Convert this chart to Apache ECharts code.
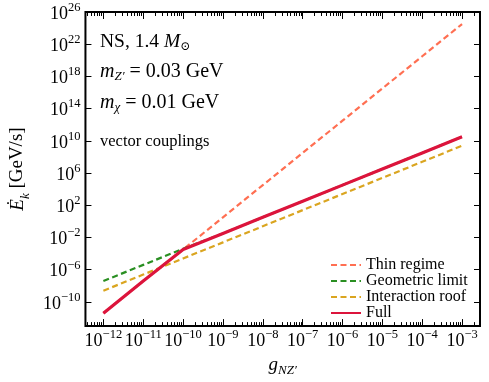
<!DOCTYPE html>
<html>
<head>
<meta charset="utf-8">
<script src="https://cdn.jsdelivr.net/npm/echarts@6/dist/echarts.min.js"></script>
<style>html,body{margin:0;padding:0;background:#fff;}#c{width:489px;height:382px;}</style>
</head>
<body>
<div id="c"></div>
<script>
// coupling g_{NZ'} (x) values
var gValues = [1e-12, 1e-11, 1e-10, 1e-9, 1e-8, 1e-7, 1e-6, 1e-5, 1e-4, 1e-3];
// Edot_k [GeV/s]
var thinRegime     = [4e-12, 4e-8, 3.2e-4, 3.2, 3.2e4, 3.2e8, 3.2e12, 3.2e16, 3.2e20, 3.2e24];
var geometricLimit = [4e-8, 4e-6, 4e-4, 3.2e-2, 3.2, 3.2e2, 3.2e4, 3.2e6, 3.2e8, 3.2e10];
var interactionRoof= [2.5e-9, 2.5e-7, 2.5e-5, 2.5e-3, 0.25, 25, 2.5e3, 2.5e5, 2.5e7, 2.5e9];
var full           = [4e-12, 4e-8, 3.2e-4, 3.2e-2, 3.2, 3.2e2, 3.2e4, 3.2e6, 3.2e8, 3.2e10];
// tick exponents
var xTickExps = [-12, -11, -10, -9, -8, -7, -6, -5, -4, -3];
var yTickExps = [-10, -6, -2, 2, 6, 10, 14, 18, 22, 26];
var seriesNames = ['Thin regime', 'Geometric limit', 'Interaction roof', 'Full'];

var FONT = "'Liberation Serif', 'DejaVu Serif', serif";
var X_MIN = -12.45, X_MAX = -2.55, Y_MIN = -13, Y_MAX = 26;

function pairs(xs, ys) {
  return xs.map(function (x, i) { return [Math.log10(x), Math.log10(ys[i])]; });
}
var xMinor = [];
for (var n = -13; n <= -3; n++) {
  for (var k = 2; k <= 9; k++) {
    var v = Math.log10(k) + n;
    if (v > X_MIN && v < X_MAX) xMinor.push(v);
  }
}
function powLabel(v) {
  var e = Math.round(v);
  return '{b|10}{s|' + (e < 0 ? '\u2212' : '') + Math.abs(e) + '}';
}
var labelRich = {
  b: { fontFamily: FONT, fontSize: 18, color: '#000', lineHeight: 22, verticalAlign: 'bottom' },
  s: { fontFamily: FONT, fontSize: 12.5, color: '#000', lineHeight: 22, verticalAlign: 'top' }
};
function xAxisDef(pos, minor, withLabel) {
  var ticks = minor ? xMinor : xTickExps;
  return {
    type: 'value', position: pos, min: X_MIN, max: X_MAX,
    axisLine: { show: false, onZero: false },
    splitLine: { show: false },
    axisTick: { show: true, inside: true, length: minor ? 4 : 7, customValues: ticks,
                lineStyle: { color: '#000', width: 1 } },
    axisLabel: withLabel ? { show: true, customValues: xTickExps, formatter: powLabel, margin: 2, rich: labelRich }
                         : { show: false },
    name: withLabel ? '{i|g}{s|NZ\u2032}' : '',
    nameLocation: 'middle', nameGap: 20,
    nameTextStyle: { rich: {
      i: { fontFamily: FONT, fontStyle: 'italic', fontSize: 19, color: '#000', lineHeight: 22, verticalAlign: 'top' },
      s: { fontFamily: FONT, fontStyle: 'italic', fontSize: 13, color: '#000', lineHeight: 22, verticalAlign: 'bottom' }
    } }
  };
}
function yAxisDef(pos, withLabel) {
  return {
    type: 'value', position: pos, min: Y_MIN, max: Y_MAX,
    axisLine: { show: false, onZero: false },
    splitLine: { show: false },
    axisTick: { show: true, inside: true, length: 6, customValues: yTickExps,
                lineStyle: { color: '#000', width: 1 } },
    axisLabel: withLabel ? { show: true, customValues: yTickExps, formatter: powLabel, margin: 5, rich: labelRich }
                         : { show: false },
    name: withLabel ? '{i|\u0116}{s|k}{r| [GeV/s]}' : '',
    nameLocation: 'middle', nameGap: 50, nameRotate: 90,
    nameTextStyle: { rich: {
      i: { fontFamily: FONT, fontStyle: 'italic', fontSize: 19, color: '#000', lineHeight: 24, verticalAlign: 'top' },
      s: { fontFamily: FONT, fontStyle: 'italic', fontSize: 13, color: '#000', lineHeight: 24, verticalAlign: 'bottom' },
      r: { fontFamily: FONT, fontSize: 19, color: '#000', lineHeight: 24, verticalAlign: 'top' }
    } }
  };
}
function lineSeries(name, ys, color, width, dashed) {
  return {
    name: name, type: 'line', xAxisIndex: 0, yAxisIndex: 0,
    data: pairs(gValues, ys), symbol: 'none', showSymbol: false,
    lineStyle: { color: color, width: width, type: dashed ? [6, 3.5] : 'solid' },
    itemStyle: { color: color },
    animation: false
  };
}

var chart = echarts.init(document.getElementById('c'), null, { renderer: 'canvas' });
chart.setOption({
  animation: false,
  backgroundColor: '#fff',
  grid: { left: 82, right: 9, top: 12, bottom: 50, show: true, borderColor: '#000', borderWidth: 2, containLabel: false },
  xAxis: [xAxisDef('bottom', false, true), xAxisDef('bottom', true, false), xAxisDef('top', false, false), xAxisDef('top', true, false)],
  yAxis: [yAxisDef('left', true), yAxisDef('right', false)],
  legend: {
    show: true,
    orient: 'vertical', left: 330, top: 257, itemWidth: 30, itemHeight: 10, itemGap: 0,
    padding: 0,
    itemStyle: { opacity: 0 },
    textStyle: { fontFamily: FONT, fontSize: 16, color: '#000', lineHeight: 15.6 },
    data: seriesNames
  },
  series: [
    lineSeries(seriesNames[0], thinRegime, '#FF6F52', 2.2, true),
    lineSeries(seriesNames[1], geometricLimit, '#2A8F22', 2.2, true),
    lineSeries(seriesNames[2], interactionRoof, '#DAA520', 2.2, true),
    lineSeries(seriesNames[3], full, '#DC143C', 3.2, false)
  ],
  graphic: [
    { type: 'text', left: 100, top: 32, style: { text: '{r|NS, 1.4 }{i|M}{s|\u2299}',
      rich: { r: { fontFamily: FONT, fontSize: 19.5, fill: '#000', lineHeight: 22 },
              i: { fontFamily: FONT, fontStyle: 'italic', fontSize: 19.5, fill: '#000', lineHeight: 22 },
              s: { fontFamily: FONT, fontSize: 12, fill: '#000', lineHeight: 22, verticalAlign: 'bottom' } } } },
    { type: 'text', left: 100, top: 62, style: { text: '{i|m}{s|Z\u2032}{r| = 0.03 GeV}',
      rich: { r: { fontFamily: FONT, fontSize: 20, fill: '#000', lineHeight: 22 },
              i: { fontFamily: FONT, fontStyle: 'italic', fontSize: 20, fill: '#000', lineHeight: 22 },
              s: { fontFamily: FONT, fontStyle: 'italic', fontSize: 13, fill: '#000', lineHeight: 22, verticalAlign: 'bottom' } } } },
    { type: 'text', left: 100, top: 93, style: { text: '{i|m}{s|\u03c7}{r| = 0.01 GeV}',
      rich: { r: { fontFamily: FONT, fontSize: 20, fill: '#000', lineHeight: 22 },
              i: { fontFamily: FONT, fontStyle: 'italic', fontSize: 20, fill: '#000', lineHeight: 22 },
              s: { fontFamily: FONT, fontStyle: 'italic', fontSize: 13, fill: '#000', lineHeight: 22, verticalAlign: 'bottom' } } } },
    { type: 'text', left: 100, top: 133, style: { text: 'vector couplings', fontFamily: FONT, fontSize: 16.5, fill: '#000' } }
  ]
});
</script>
</body>
</html>
